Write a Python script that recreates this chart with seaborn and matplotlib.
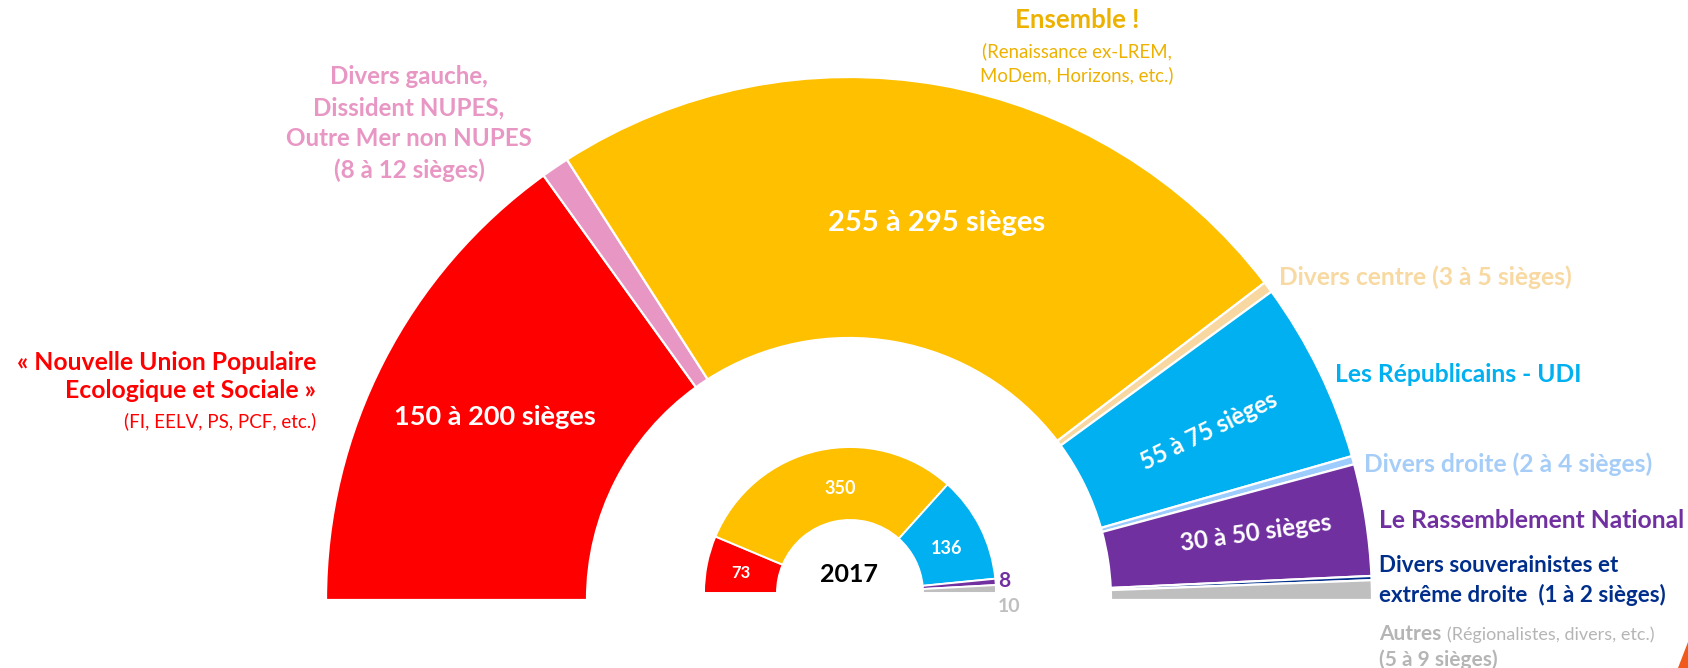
import matplotlib
matplotlib.use("Agg")
import matplotlib.pyplot as plt
import seaborn as sns

# 2022 projection (midpoint of each seat range), left to right
parties = ["NUPES", "Divers gauche", "Ensemble", "Divers centre", "LR-UDI",
           "Divers droite", "RN", "Divers souverainistes", "Autres"]
seats_2022 = [175, 10, 275, 4, 65, 3, 40, 1.5, 7]
colors_2022 = ["#FF0000", "#E896C3", "#FFC000", "#F8D8A0", "#00B0F0",
               "#9DCCFF", "#7030A0", "#002E8B", "#BFBFBF"]

# 2017 results
seats_2017 = [73, 350, 136, 8, 10]
colors_2017 = ["#FF0000", "#FFC000", "#00B0F0", "#7030A0", "#BFBFBF"]
labels_2017 = ["73", "350", "136", "8", "10"]

sns.set_theme(style="white")
plt.rcParams['font.family'] = ['Lato', 'DejaVu Sans']

W, H = 1688, 668
fig = plt.figure(figsize=(W / 100, H / 100), dpi=100)
ax = fig.add_axes([0, 0, 1, 1])


def half_donut(ax, values, colors, center, radius, width, lw):
    # add an invisible bottom half so the visible part spans 180 degrees
    wedges, _ = ax.pie(values + [sum(values)], colors=colors + ["white"],
                       center=center, radius=radius, startangle=180,
                       counterclock=False,
                       wedgeprops=dict(width=width, edgecolor="white", linewidth=lw))
    wedges[-1].set_visible(False)
    return wedges


def Y(y):
    # pixel row (from top) -> data y
    return H - y


half_donut(ax, seats_2022, colors_2022, (849, Y(600)), 523, 261, 1.6)
half_donut(ax, seats_2017, colors_2017, (850, Y(593)), 146, 73, 1.4)

ax.set_xlim(0, W)
ax.set_ylim(0, H)
ax.set_aspect("equal")
ax.axis("off")

white_bold = dict(color="white", fontweight="bold", ha="center", va="center")

# values inside the outer ring
ax.text(495, Y(417), "150 à 200 sièges", fontsize=19.5, **white_bold)
ax.text(937, Y(223), "255 à 295 sièges", fontsize=21, **white_bold)
ax.text(1209, Y(431), "55 à 75 sièges", fontsize=17, rotation=26, **white_bold)
ax.text(1256, Y(533), "30 à 50 sièges", fontsize=17.5, rotation=8, **white_bold)

# 2017 ring
ax.text(741, Y(573), labels_2017[0], fontsize=12, **white_bold)
ax.text(840, Y(489), labels_2017[1], fontsize=13, **white_bold)
ax.text(947, Y(549), labels_2017[2], fontsize=13, **white_bold)
ax.text(849, Y(575), "2017", fontsize=18, color="black", fontweight="bold",
        ha="center", va="center")
ax.text(1004, Y(581), labels_2017[3], fontsize=15, color="#7030A0",
        fontweight="bold", ha="center", va="center")
ax.text(1009, Y(607), labels_2017[4], fontsize=14, color="#BFBFBF",
        fontweight="bold", ha="center", va="center")

# party labels
red = "#FF0000"
ax.text(316, Y(362), "« Nouvelle Union Populaire", fontsize=17.8, color=red,
        fontweight="bold", ha="right", va="center")
ax.text(316, Y(391), "Ecologique et Sociale »", fontsize=17.8, color=red,
        fontweight="bold", ha="right", va="center")
ax.text(316, Y(421), "(FI, EELV, PS, PCF, etc.)", fontsize=13.5, color=red,
        ha="right", va="center")

pink = "#E896C3"
for txt, y in zip(["Divers gauche,", "Dissident NUPES,", "Outre Mer non NUPES",
                   "(8 à 12 sièges)"], [76, 108, 139, 170]):
    ax.text(409, Y(y), txt, fontsize=17.4, color=pink, fontweight="bold",
            ha="center", va="center")

gold = "#EDB100"
ax.text(1077, Y(20), "Ensemble !", fontsize=18.5, color=gold, fontweight="bold",
        ha="center", va="center")
ax.text(1077, Y(51), "(Renaissance ex-LREM,", fontsize=13.4, color=gold,
        ha="center", va="center")
ax.text(1077, Y(75), "MoDem, Horizons, etc.)", fontsize=13.4, color=gold,
        ha="center", va="center")

left = dict(fontweight="bold", ha="left", va="center", fontsize=17.7)
ax.text(1279, Y(277), "Divers centre (3 à 5 sièges)", color="#F8D9A2", **left)
ax.text(1335, Y(375), "Les Républicains - UDI", color="#00B0F0", **left)
ax.text(1364, Y(464), "Divers droite (2 à 4 sièges)", color="#A5CDF8", **left)
ax.text(1379, Y(520), "Le Rassemblement National", color="#7030A0", **left)
small = dict(left, fontsize=16.1)
ax.text(1379, Y(566), "Divers souverainistes et", color="#002E8B", **small)
ax.text(1379, Y(595), "extrême droite  (1 à 2 sièges)", color="#002E8B", **small)
t = ax.text(1379, Y(634), "Autres", color="#B5B5B5", **dict(left, fontsize=15))
fig.canvas.draw()
bb = t.get_window_extent()
ax.text(bb.x1 + 6, Y(635), "(Régionalistes, divers, etc.)", color="#B5B5B5",
        fontsize=13, ha="left", va="center")
ax.text(1379, Y(660), "(5 à 9 sièges)", color="#B5B5B5", **dict(left, fontsize=15))

# corner of a logo in the bottom right
ax.add_patch(plt.Polygon([[1678, Y(668)], [1688, Y(642)], [1688, Y(668)]],
                         closed=True, color="#F05A1A", lw=0))

fig.savefig("out.png", dpi=100)
